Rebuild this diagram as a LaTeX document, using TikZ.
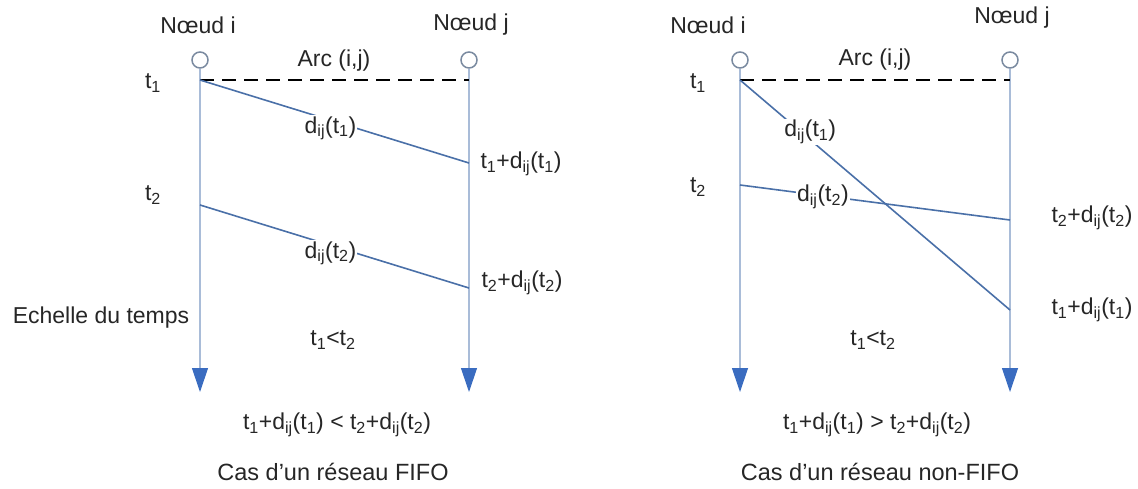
\documentclass[tikz,border=0pt]{standalone}
\usepackage{fontspec}
\setmainfont{Liberation Sans}
\usetikzlibrary{arrows.meta}
\newcommand{\sbs}[1]{\textsubscript{#1}}
\definecolor{lineblue}{HTML}{4A70A8}
\definecolor{axisblue}{HTML}{A9BCD8}
\definecolor{tipblue}{HTML}{3A6CC0}
\definecolor{circgray}{HTML}{7A8AA0}
\begin{document}
\begin{tikzpicture}[x=1pt,y=-1pt,
  every node/.style={font=\fontsize{23}{27}\selectfont, inner sep=1pt, text=black!85},
  station/.style={circle,draw=circgray,fill=white,line width=1.5pt,minimum size=16pt,inner sep=0pt},
  timeline/.style={draw=axisblue,line width=1.2pt,-{Triangle[width=16pt,length=24pt,color=tipblue]}},
  arcline/.style={dash pattern=on 14pt off 8pt, line width=2.4pt},
  delay/.style={draw=lineblue,line width=1.6pt},
  dlabel/.style={fill=white,inner sep=1pt},
  caption/.style={font=\fontsize{23.5}{28}\selectfont}]
\useasboundingbox (0,0) rectangle (1138,489);

% ---------------- Left panel (FIFO) ----------------
\node[station] (Li) at (200,60) {};
\node[station] (Lj) at (469,60) {};
\node at (198,25) {Nœud i};
\node at (471,25) {Nœud j};
\node at (334,61) {Arc (i,j)};
\coordinate (Lia) at (200,392);
\coordinate (Lja) at (469,392);
\draw[timeline] (Li.south) -- (Lia);
\draw[timeline] (Lj.south) -- (Lja);
\coordinate (L1i) at (200,80);
\coordinate (L1j) at (469,80);
\draw[arcline] (L1i) -- (L1j);
\coordinate (L1e) at (469,163);
\coordinate (L2i) at (200,205);
\coordinate (L2e) at (469,288);
\draw[delay] (L1i) -- node[dlabel,pos=0.485,yshift=-8pt] {d\sbs{ij}(t\sbs{1})} (L1e);
\draw[delay] (L2i) -- node[dlabel,pos=0.485,yshift=-8pt] {d\sbs{ij}(t\sbs{2})} (L2e);
\node at (153,83) {t\sbs{1}};
\node at (153,195) {t\sbs{2}};
\node at (521,164) {t\sbs{1}+d\sbs{ij}(t\sbs{1})};
\node at (522,283) {t\sbs{2}+d\sbs{ij}(t\sbs{2})};
\node at (101,318) {Echelle du temps};
\node at (333,340) {t\sbs{1}<t\sbs{2}};
\node at (337,425) {t\sbs{1}+d\sbs{ij}(t\sbs{1}) < t\sbs{2}+d\sbs{ij}(t\sbs{2})};
\node[caption] at (333,472) {Cas d’un réseau FIFO};

% ---------------- Right panel (non-FIFO) ----------------
\node[station] (Ri) at (740,60) {};
\node[station] (Rj) at (1010,60) {};
\node at (708,25) {Nœud i};
\node at (1012,18) {Nœud j};
\node at (875,60) {Arc (i,j)};
\coordinate (Ria) at (740,392);
\coordinate (Rja) at (1010,392);
\draw[timeline] (Ri.south) -- (Ria);
\draw[timeline] (Rj.south) -- (Rja);
\coordinate (R1i) at (740,80);
\coordinate (R1j) at (1010,80);
\draw[arcline] (R1i) -- (R1j);
\coordinate (R1e) at (1010,310);
\coordinate (R2i) at (740,185);
\coordinate (R2e) at (1010,220);
\draw[delay] (R1i) -- node[dlabel,pos=0.26,yshift=8pt] {d\sbs{ij}(t\sbs{1})} (R1e);
\draw[delay] (R2i) -- node[dlabel,pos=0.307,yshift=-1pt] {d\sbs{ij}(t\sbs{2})} (R2e);
\node at (698,83) {t\sbs{1}};
\node at (698,187) {t\sbs{2}};
\node at (1092,218) {t\sbs{2}+d\sbs{ij}(t\sbs{2})};
\node at (1092,310) {t\sbs{1}+d\sbs{ij}(t\sbs{1})};
\node at (873,340) {t\sbs{1}<t\sbs{2}};
\node at (877,425) {t\sbs{1}+d\sbs{ij}(t\sbs{1}) > t\sbs{2}+d\sbs{ij}(t\sbs{2})};
\node[caption] at (880,472) {Cas d’un réseau non-FIFO};
\end{tikzpicture}
\end{document}
